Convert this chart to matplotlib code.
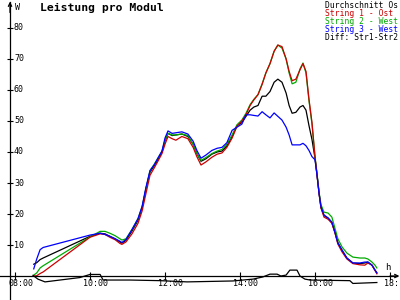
import numpy as np
import matplotlib
matplotlib.use("Agg")
import matplotlib.pyplot as plt

# time of day in hours
hours = [8.50, 8.58, 8.67, 8.75, 10.00, 10.27, 10.40, 10.53, 10.67, 10.80, 10.85, 10.96,
         11.12, 11.28, 11.39, 11.49, 11.60, 11.71, 11.81, 11.92, 12.00, 12.08, 12.19, 12.29,
         12.45, 12.61, 12.75, 12.85, 12.96, 13.09, 13.25, 13.39, 13.52, 13.65, 13.79, 13.92,
         14.05, 14.16, 14.27, 14.37, 14.48, 14.59, 14.69, 14.80, 14.91, 15.01, 15.12, 15.23,
         15.31, 15.39, 15.49, 15.60, 15.68, 15.76, 15.84, 15.92, 16.00, 16.05, 16.11, 16.16,
         16.24, 16.35, 16.45, 16.53, 16.61, 16.72, 16.85, 17.01, 17.20, 17.33, 17.41, 17.52,
         17.60, 17.65]

durchschnitt = [3.8, 4.3, 5.3, 5.8, 12.8, 13.8, 13.6, 12.8, 12.0, 11.0, 10.6, 11.5,
                14.5, 18.0, 22.0, 28.0, 33.5, 35.5, 37.5, 40.0, 43.5, 46.0, 45.3, 45.5,
                45.8, 45.0, 42.5, 39.5, 37.0, 37.8, 39.3, 40.0, 40.3, 42.0, 45.0, 48.5,
                49.5, 51.5, 53.5, 54.5, 55.0, 58.0, 58.0, 59.5, 62.5, 63.5, 62.5, 59.0,
                55.0, 52.5, 52.8, 54.5, 55.0, 53.5, 48.5, 44.0, 38.0, 33.0, 26.5, 22.0,
                19.5, 18.7, 17.2, 14.2, 10.8, 8.3, 5.8, 4.2, 4.0, 4.2, 4.5, 3.5,
                1.9, 1.0]

string1_ost = [0.0, 0.1, 0.8, 1.3, 12.5, 13.6, 13.4, 12.5, 11.7, 10.5, 10.2, 11.0,
               13.6, 17.0, 21.0, 26.5, 32.5, 34.8, 37.0, 39.5, 42.5, 45.0, 44.3, 43.8,
               45.0, 44.3, 41.5, 38.5, 35.8, 36.8, 38.3, 39.3, 39.7, 41.5, 44.5, 48.3,
               50.0, 52.0, 55.0, 56.8, 58.5, 61.8, 65.5, 68.5, 72.5, 74.5, 74.0, 70.0,
               66.0, 63.0, 63.5, 66.5, 68.5, 66.0, 57.0, 49.5, 38.5, 33.0, 26.5, 22.0,
               19.0, 18.3, 17.0, 14.0, 10.3, 7.8, 5.5, 4.0, 3.6, 3.5, 4.2, 3.5,
               1.8, 0.7]

string2_west = [0.3, 1.0, 2.6, 3.3, 12.6, 14.4, 14.4, 13.8, 13.0, 12.0, 11.6, 12.0,
                15.0, 18.5, 22.3, 28.0, 34.0, 36.0, 38.0, 40.3, 43.8, 46.0, 45.5, 45.5,
                45.8, 45.3, 42.5, 39.5, 37.3, 38.2, 39.5, 40.3, 40.8, 42.5, 45.5, 48.8,
                50.3, 52.5, 55.3, 57.0, 58.5, 62.0, 65.5, 68.5, 72.5, 74.5, 73.5, 70.0,
                65.5, 62.0, 62.5, 66.8, 68.7, 65.5, 56.5, 49.0, 38.5, 33.5, 27.0, 23.0,
                20.6, 20.3, 19.0, 15.5, 12.0, 9.4, 7.4, 6.1, 5.8, 5.8, 5.5, 4.5,
                3.5, 2.6]

string3_west = [2.3, 5.5, 8.5, 9.2, 13.2, 13.8, 13.4, 12.8, 12.0, 11.2, 10.8, 11.8,
                15.0, 18.5, 22.5, 28.5, 34.0, 35.8, 38.0, 40.3, 44.5, 46.8, 46.0, 46.2,
                46.5, 45.8, 43.5, 40.5, 38.0, 39.0, 40.5, 41.2, 41.5, 43.0, 47.0, 48.0,
                49.0, 52.0, 52.0, 51.8, 51.6, 53.0, 52.0, 51.0, 52.6, 51.5, 50.3, 48.0,
                45.5, 42.3, 42.3, 42.3, 42.8, 42.0, 40.5, 38.5, 37.5, 33.0, 26.5, 22.3,
                19.7, 18.7, 17.4, 14.2, 10.6, 8.4, 5.8, 4.2, 4.2, 4.5, 4.5, 3.5,
                1.9, 1.0]

diff_hours = [8.48, 8.61, 8.80, 9.73, 10.00, 10.27, 10.35, 11.07, 11.87, 12.59, 13.81,
              14.35, 14.61, 14.80, 14.99, 15.09, 15.23, 15.33, 15.52, 15.60, 15.73, 15.87,
              16.93, 17.01, 17.65]
diff_str = [0.2, -1.0, -1.9, -0.5, 0.5, 0.5, -1.3, -1.3, -1.5, -1.9, -1.6,
            -1.0, -0.3, 0.6, 0.6, 0.0, 0.3, 1.9, 1.9, 0.0, -1.0, -1.3,
            -1.5, -2.4, -2.1]

x_ticks = [8, 10, 12, 14, 16, 18]
x_labels = ["08:00", "10:00", "12:00", "14:00", "16:00", "18:"]
y_ticks = [10, 20, 30, 40, 50, 60, 70, 80]

legend_texts = ["Durchschnitt Os", "String 1 - Ost", "String 2 - West",
                "String 3 - West", "Diff: Str1-Str2"]

RED = "#cc0000"
GREEN = "#00aa00"
BLUE = "#0000ff"
legend_colors = ["black", RED, GREEN, BLUE, "black"]

mono = "DejaVu Sans Mono"

fig = plt.figure(figsize=(4, 3), dpi=100)
ax = fig.add_axes([0, 0, 1, 1])
ax.set_xlim(7.6, 18.267)
ax.set_ylim(-7.74, 89.03)

lw = 0.9
ax.plot(hours, durchschnitt, color="black", lw=lw)
ax.plot(hours, string2_west, color=GREEN, lw=lw)
ax.plot(hours, string1_ost, color=RED, lw=lw)
ax.plot(hours, string3_west, color=BLUE, lw=lw)
ax.plot(diff_hours, diff_str, color="black", lw=lw)

# axes through the origin
y_axis_x = 7.867
ax.spines[["top", "right"]].set_visible(False)
ax.spines["left"].set_position(("data", y_axis_x))
ax.spines["bottom"].set_position(("data", 0))
ax.spines["left"].set_bounds(-7.74, 88.3)
ax.spines["bottom"].set_bounds(7.6, 18.2)
for s in ["left", "bottom"]:
    ax.spines[s].set_linewidth(0.9)
ax.annotate("", xy=(y_axis_x, 88.5), xytext=(y_axis_x, 85),
            arrowprops=dict(arrowstyle="->", lw=0.9, color="black",
                            shrinkA=0, shrinkB=0, mutation_scale=6))
ax.annotate("", xy=(18.25, 0), xytext=(18.0, 0),
            arrowprops=dict(arrowstyle="->", lw=0.9, color="black",
                            shrinkA=0, shrinkB=0, mutation_scale=6))

ax.set_xticks(x_ticks)
ax.set_yticks(y_ticks)
ax.tick_params(axis="x", direction="inout", length=5.5, width=0.8,
               labelbottom=False)
ax.tick_params(axis="y", direction="inout", length=4, width=0.8,
               labelleft=False)

for h, lab in zip(x_ticks[:-1], x_labels[:-1]):
    ax.text(h + 6 / 37.5, -2.4, lab, ha="center", va="center",
            fontsize=6, family=mono)
# last label sits at the right edge
ax.text(18.25, -2.4, x_labels[-1], ha="right", va="center",
        fontsize=6, family=mono)
for v in y_ticks:
    ax.text(7.973, v, str(v), ha="left", va="center", fontsize=6, family=mono)

fig.text(40 / 400, 1 - 8 / 300, "Leistung pro Modul", ha="left", va="center",
         fontsize=8.2, fontweight="bold", family=mono)
fig.text(15 / 400, 1 - 7 / 300, "W", ha="left", va="center", fontsize=6, family=mono)
fig.text(385 / 400, 1 - 267 / 300, "h", ha="left", va="center", fontsize=6.5, family=mono)

for i, (t, c) in enumerate(zip(legend_texts, legend_colors)):
    fig.text(325 / 400, 1 - (5 + 8 * i) / 300, t, ha="left", va="center",
             fontsize=5.8, family=mono, color=c)

fig.savefig("out.png", dpi=100)
